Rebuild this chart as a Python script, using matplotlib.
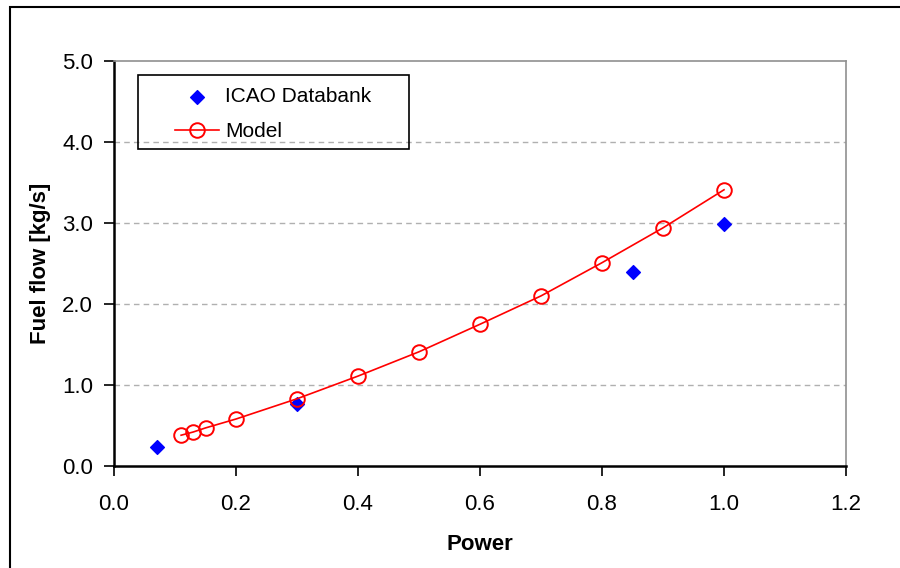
import numpy as np
import matplotlib
matplotlib.use("Agg")
import matplotlib.pyplot as plt
from matplotlib.patches import Rectangle

plt.rcParams['font.family'] = ['Liberation Sans', 'DejaVu Sans']

# ICAO databank points
icao_power = [0.07, 0.30, 0.85, 1.00]
icao_fuel = [0.24, 0.76, 2.39, 2.99]

# model curve
model_power = [0.11, 0.13, 0.15, 0.20, 0.30, 0.40, 0.50, 0.60, 0.70, 0.80, 0.90, 1.00]
model_fuel = [0.38, 0.42, 0.47, 0.58, 0.83, 1.11, 1.41, 1.75, 2.10, 2.51, 2.94, 3.41]

xticks = [0.0, 0.2, 0.4, 0.6, 0.8, 1.0, 1.2]
yticks = [0.0, 1.0, 2.0, 3.0, 4.0, 5.0]

fig = plt.figure(figsize=(9, 5.68), dpi=100)
ax = fig.add_axes([114/900, 1-466/568, (846-114)/900, (466-61)/568])

# outer chart frame
fig.patches.append(Rectangle((10/900, -0.1), 1.2, 1-7/568+0.1, transform=fig.transFigure,
                             fill=False, edgecolor='black', linewidth=1.5))

ax.scatter(icao_power, icao_fuel, marker='D', s=7**2, color='#0000ff', zorder=3,
           label='ICAO Databank')
ax.plot(model_power, model_fuel, color='#ff0000', linewidth=1.2, marker='o',
        markersize=10.5, markerfacecolor='none', markeredgecolor='#ff0000',
        markeredgewidth=1.4, zorder=4, label='Model')

ax.set_xlim(0, 1.2)
ax.set_ylim(0, 5.0)
ax.set_xticks(xticks)
ax.set_yticks(yticks)
ax.set_xticklabels(['%.1f' % v for v in xticks])
ax.set_yticklabels(['%.1f' % v for v in yticks])

for y in yticks[1:-1]:
    ax.axhline(y, color='#b0b0b0', linestyle=(0, (4, 3)), linewidth=1.0, zorder=1)

ax.spines['left'].set_color('black')
ax.spines['left'].set_linewidth(1.8)
ax.spines['bottom'].set_color('black')
ax.spines['bottom'].set_linewidth(1.8)
ax.spines['top'].set_color('#909090')
ax.spines['right'].set_color('#909090')
ax.spines['top'].set_linewidth(1.2)
ax.spines['right'].set_linewidth(1.2)

ax.tick_params(axis='both', direction='out', length=7, width=1.2, labelsize=16, colors='black')
ax.tick_params(axis='y', pad=8)
ax.tick_params(axis='x', pad=13)

ax.set_xlabel('Power', fontsize=16, fontweight='bold', labelpad=14)
ax.set_ylabel('Fuel flow [kg/s]', fontsize=16, fontweight='bold', labelpad=8)

# legend box drawn separately (wide side padding like the original)
ax.add_patch(Rectangle(((138-114)/732, (466-149)/405), 271/732, 74/405,
                       transform=ax.transAxes, fill=False, edgecolor='black',
                       linewidth=1.2, zorder=5))
leg = ax.legend(loc='upper left', bbox_to_anchor=((175-114)/732, (466-87)/405),
                fontsize=15, frameon=False, borderaxespad=0, borderpad=0,
                handlelength=2.1, handletextpad=0.3, labelspacing=0.78)

fig.savefig('out.png', dpi=100)
